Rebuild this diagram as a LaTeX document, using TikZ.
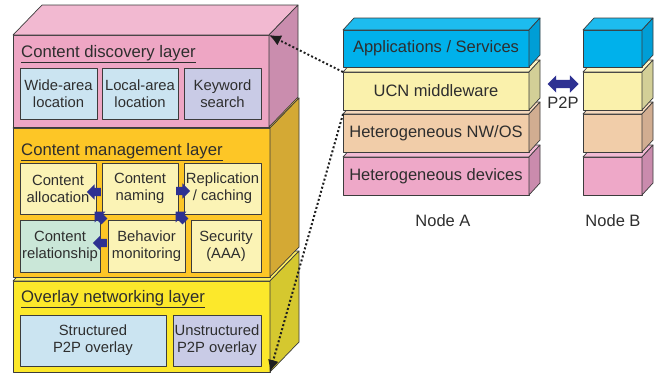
\documentclass[tikz,border=0pt]{standalone}
\usepackage{fontspec}
\setmainfont{Liberation Sans}
\usetikzlibrary{arrows.meta,shapes.arrows,calc}

\definecolor{edgegrey}{HTML}{3C3C3C}
\definecolor{textgrey}{HTML}{2E2E2E}
\definecolor{dotgrey}{HTML}{1E1E1E}
\definecolor{arrowblue}{HTML}{2E3192}
% left stack
\definecolor{pinkfront}{HTML}{EEA6C4}
\definecolor{pinktop}{HTML}{F2B9D1}
\definecolor{pinkside}{HTML}{CA8DAE}
\definecolor{goldfront}{HTML}{FDC626}
\definecolor{goldtop}{HTML}{FDD24E}
\definecolor{goldside}{HTML}{D4A934}
\definecolor{yellowfront}{HTML}{FCE82B}
\definecolor{yellowtop}{HTML}{FDEE60}
\definecolor{yellowside}{HTML}{D5C82F}
% node stacks
\definecolor{cyanfront}{HTML}{00B1EB}
\definecolor{cyantop}{HTML}{1DBCEF}
\definecolor{cyanside}{HTML}{009ED6}
\definecolor{creamfront}{HTML}{FAF1AC}
\definecolor{creamtop}{HTML}{FCF5C4}
\definecolor{creamside}{HTML}{D3CF97}
\definecolor{peachfront}{HTML}{F1CDA9}
\definecolor{peachtop}{HTML}{F5D9BD}
\definecolor{peachside}{HTML}{D1AD91}
\definecolor{rosefront}{HTML}{EEA8C8}
\definecolor{rosetop}{HTML}{F2BAD4}
\definecolor{roseside}{HTML}{CA8BAD}
% inner boxes
\definecolor{boxblue}{HTML}{CBE4F1}
\definecolor{boxlav}{HTML}{C9CBE6}
\definecolor{boxcream}{HTML}{FBF3B5}
\definecolor{boxgreen}{HTML}{CAE7D8}

% top and side faces of a block: name, dx, dy, top colour, side colour
\newcommand\blockfaces[5]{%
  \draw[edge, fill=#4] (#1.north west) -- ++(#2,#3) -- ($(#1.north east)+(#2,#3)$) -- (#1.north east) -- cycle;
  \draw[edge, fill=#5] (#1.north east) -- ($(#1.north east)+(#2,#3)$) -- ($(#1.south east)+(#2,#3)$) -- (#1.south east) -- cycle;
}

\begin{document}
\begin{tikzpicture}[x=1pt, y=-1pt,
    edge/.style={draw=edgegrey, line width=0.7pt, line join=round},
    layerfront/.style={edge, anchor=north west, inner sep=0, outer sep=0},
    inbox/.style={edge, anchor=north west, inner sep=0, outer sep=0, align=center,
      font=\fontsize{14.8}{16.8}\selectfont, text=textgrey},
    stackfront/.style={edge, anchor=north west, inner sep=0, outer sep=0,
      font=\fontsize{16.5}{19}\selectfont, text=textgrey},
    title/.style={anchor=base west, inner sep=0, font=\fontsize{16.7}{19}\selectfont, text=textgrey},
    label/.style={inner sep=0, font=\fontsize{16.5}{19}\selectfont, text=textgrey},
    blockarrow/.style={single arrow, fill=arrowblue, draw=none, minimum height=14pt,
      inner xsep=0pt, inner ysep=4pt, single arrow head extend=3.5pt},
    linkdots/.style={draw=dotgrey, line width=2pt, dash pattern=on 2pt off 2.2pt,
      -{Latex[length=12pt,width=11pt]}}]
\useasboundingbox (0,0) rectangle (664,376);

% overlay networking layer
\node[layerfront, fill=yellowfront, minimum width=257pt, minimum height=91pt] (ovl) at (13,281) {};
\blockfaces{ovl}{29}{-30}{yellowtop}{yellowside}
\node[title] (ovltitle) at (21,302) {\underline{Overlay networking layer}};
\node[inbox, fill=boxblue, minimum width=146pt, minimum height=51pt] (struct) at (20,315) {Structured\\P2P overlay};
\node[inbox, fill=boxlav, minimum width=88pt, minimum height=51pt] (unstruct) at (173,315) {Unstructured\\P2P overlay};

% content management layer
\node[layerfront, fill=goldfront, minimum width=257pt, minimum height=149pt] (mgmt) at (13,128) {};
\blockfaces{mgmt}{29}{-30}{goldtop}{goldside}
\node[title] (mgmttitle) at (21,155) {\underline{Content management layer}};
\node[inbox, fill=boxcream, minimum width=76pt, minimum height=51pt] (alloc) at (20,163) {Content\\allocation};
\node[inbox, fill=boxcream, minimum width=76pt, minimum height=51pt] (naming) at (102,163) {Content\\naming};
\node[inbox, fill=boxcream, minimum width=77pt, minimum height=51pt] (repl) at (184,163) {Replication\\/ caching};
\node[inbox, fill=boxgreen, minimum width=80pt, minimum height=52pt] (relat) at (20,220) {Content\\relationship};
\node[inbox, fill=boxcream, minimum width=77pt, minimum height=52pt] (behav) at (108,220) {Behavior\\monitoring};
\node[inbox, fill=boxcream, minimum width=70pt, minimum height=52pt] (secur) at (191,220) {Security\\(AAA)};

% block arrows between the boxes
\node[blockarrow, rotate=180] (nm2al) at ($(alloc.east)!0.5!(naming.west)+(-3,3.5)$) {};
\node[blockarrow] (nm2re) at ($(naming.east)!0.5!(repl.west)+(0,2.5)$) {};
\node[blockarrow, rotate=135] (bh2al) at ($(alloc.south east)!0.5!(behav.north west)+(-1,1)$) {};
\node[blockarrow, rotate=135] (se2nm) at ($(naming.south east)!0.5!(secur.north west)+(-2.5,1)$) {};
\node[blockarrow, rotate=180] (bh2rl) at ($(relat.east)!0.5!(behav.west)+(-2,-3)$) {};

% content discovery layer
\node[layerfront, fill=pinkfront, minimum width=256pt, minimum height=92pt] (disc) at (13,35) {};
\blockfaces{disc}{29}{-30}{pinktop}{pinkside}
\node[title] (disctitle) at (21,57) {\underline{Content discovery layer}};
\node[inbox, fill=boxblue, minimum width=77pt, minimum height=51pt] (wide) at (20,68) {Wide-area\\location};
\node[inbox, fill=boxblue, minimum width=76pt, minimum height=51pt] (local) at (102,68) {Local-area\\location};
\node[inbox, fill=boxlav, minimum width=77pt, minimum height=51pt] (keyw) at (184,68) {Keyword\\search};

% node A
\node[stackfront, fill=rosefront, minimum width=186pt, minimum height=38pt] (devA) at (343,157) {Heterogeneous devices};
\blockfaces{devA}{11}{-12}{rosetop}{roseside}
\node[stackfront, fill=peachfront, minimum width=186pt, minimum height=38pt] (nwosA) at (343,114) {Heterogeneous NW/OS};
\blockfaces{nwosA}{11}{-12}{peachtop}{peachside}
\node[stackfront, fill=creamfront, minimum width=186pt, minimum height=38pt] (ucnA) at (343,72) {UCN middleware};
\blockfaces{ucnA}{11}{-12}{creamtop}{creamside}
\node[stackfront, fill=cyanfront, minimum width=186pt, minimum height=37pt] (appsA) at (343,30) {Applications / Services};
\blockfaces{appsA}{11}{-12}{cyantop}{cyanside}
\node[label] (nameA) at (443,221) {Node A};

% node B
\node[stackfront, fill=rosefront, minimum width=59pt, minimum height=38pt] (devB) at (583,157) {};
\blockfaces{devB}{11}{-12}{rosetop}{roseside}
\node[stackfront, fill=peachfront, minimum width=59pt, minimum height=38pt] (nwosB) at (583,114) {};
\blockfaces{nwosB}{11}{-12}{peachtop}{peachside}
\node[stackfront, fill=creamfront, minimum width=59pt, minimum height=38pt] (ucnB) at (583,72) {};
\blockfaces{ucnB}{11}{-12}{creamtop}{creamside}
\node[stackfront, fill=cyanfront, minimum width=59pt, minimum height=37pt] (appsB) at (583,30) {};
\blockfaces{appsB}{11}{-12}{cyantop}{cyanside}
\node[label] (nameB) at (613,221) {Node B};

% P2P link between the nodes
\node[double arrow, fill=arrowblue, minimum height=31pt, inner xsep=0pt, inner ysep=4pt,
  double arrow head extend=4.5pt] (p2p) at ($(ucnA.east)!0.5!(ucnB.west)+(7,-7)$) {};
\node[label] (p2plabel) at (563,103) {P2P};

% dotted links from the middleware
\draw[linkdots] (ucnA.north west) -- (disc.north east);
\draw[linkdots] (nwosA.north west) -- (ovl.south east);
\end{tikzpicture}
\end{document}
